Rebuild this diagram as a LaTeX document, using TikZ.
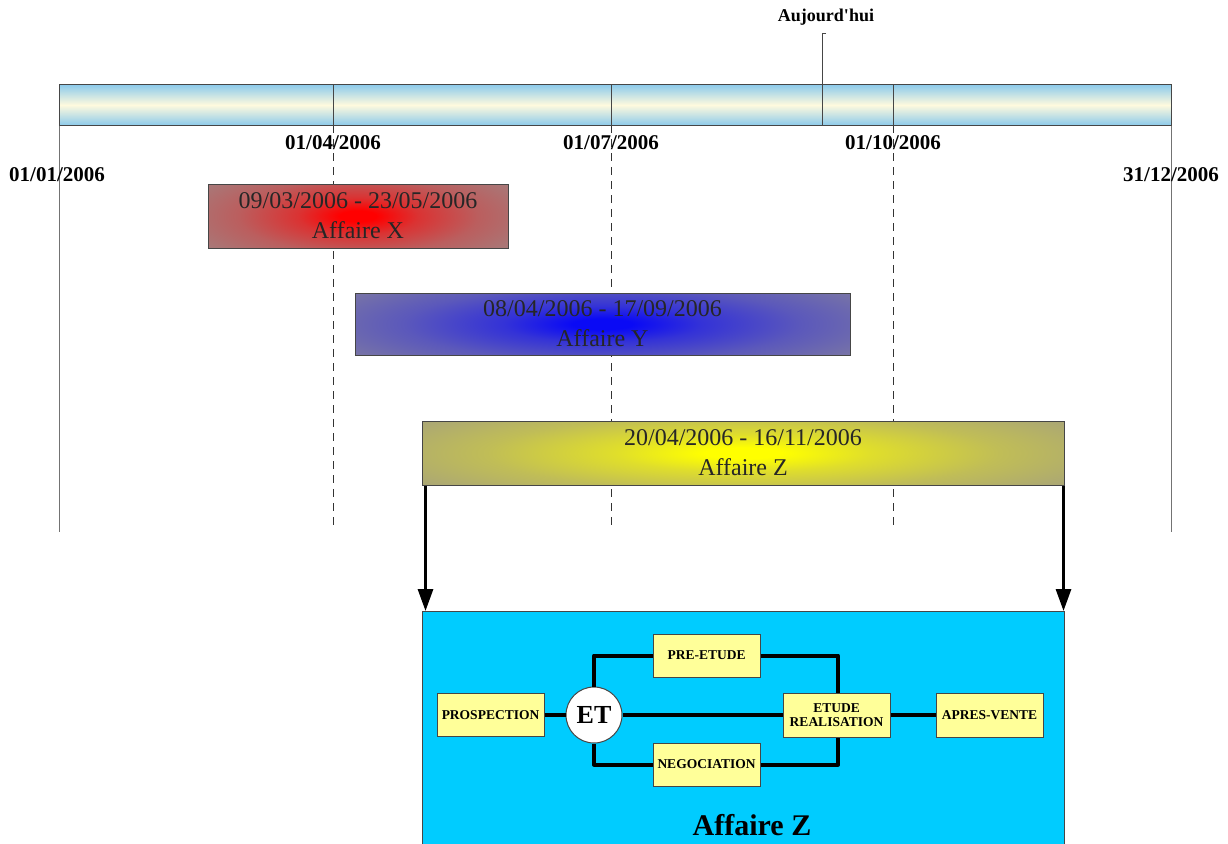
\documentclass[tikz,border=0pt]{standalone}
\usepackage{fontspec}
\setmainfont{Liberation Serif}
\usetikzlibrary{arrows.meta}
\definecolor{bargray}{RGB}{150,145,145}
\definecolor{tlblue}{RGB}{140,202,235}
\definecolor{tlcream}{RGB}{255,250,222}
\definecolor{edgegray}{RGB}{70,70,70}
\definecolor{zcyan}{RGB}{0,204,255}
\definecolor{boxyellow}{RGB}{255,255,153}
\definecolor{gred}{RGB}{255,0,0}
\definecolor{gblue}{RGB}{10,10,245}
\definecolor{gyellow}{RGB}{255,255,0}
\colorlet{gredA}{gred!65!bargray}
\colorlet{gredB}{gred!35!bargray}
\colorlet{gredC}{gred!14!bargray}
\colorlet{gblueA}{gblue!70!bargray}
\colorlet{gblueB}{gblue!42!bargray}
\colorlet{gblueC}{gblue!18!bargray}
\colorlet{gyellowA}{gyellow!70!bargray}
\colorlet{gyellowB}{gyellow!40!bargray}
\colorlet{gyellowC}{gyellow!16!bargray}
\pgfdeclareradialshading{glowred}{\pgfpoint{0bp}{0bp}}{color(0bp)=(gred); color(3bp)=(gred); color(10bp)=(gredA); color(20bp)=(gredB); color(32bp)=(gredC); color(44bp)=(bargray); color(100bp)=(bargray)}
\pgfdeclareradialshading{glowblue}{\pgfpoint{0bp}{0bp}}{color(0bp)=(gblue); color(3bp)=(gblue); color(10bp)=(gblueA); color(20bp)=(gblueB); color(32bp)=(gblueC); color(44bp)=(bargray); color(100bp)=(bargray)}
\pgfdeclareradialshading{glowyellow}{\pgfpoint{0bp}{0bp}}{color(0bp)=(gyellow); color(3bp)=(gyellow); color(10bp)=(gyellowA); color(20bp)=(gyellowB); color(32bp)=(gyellowC); color(44bp)=(bargray); color(100bp)=(bargray)}
\tikzset{
  datelbl/.style={font=\fontsize{21}{24}\selectfont\bfseries, inner sep=0pt},
  ganttbar/.style={draw=edgegray, line width=1pt, align=center, inner sep=0pt,
    font=\fontsize{24}{30}\selectfont, text=black!85},
  glow/.style={path picture={\shade[shading=#1]
    ([yshift=-14pt]path picture bounding box.south west) rectangle
    ([yshift=14pt]path picture bounding box.north east);}},
  tick/.style={draw=edgegray, line width=1pt},
  guide/.style={draw=black!80, line width=0.9pt, dash pattern=on 8pt off 6pt},
  border/.style={draw=black!55, line width=1pt},
  bigarrow/.style={line width=3pt, -{Triangle[length=22pt,width=15pt]}},
  stepbox/.style={draw=edgegray, line width=1pt, fill=boxyellow, minimum width=107pt,
    minimum height=43pt, inner sep=1pt, align=center,
    font=\fontsize{13.5}{15.5}\selectfont\bfseries},
  link/.style={line width=4pt, line join=round},
}
\begin{document}
\begin{tikzpicture}[x=1pt,y=-1pt]
\useasboundingbox (0,0) rectangle (1228,843);
\clip (0,0) rectangle (1228,843);

% guide lines
\draw[border] (59,125) -- (59,532);
\draw[border] (1171,125) -- (1171,532);
\draw[guide] (333,125) -- (333,528);
\draw[guide] (611,125) -- (611,528);
\draw[guide] (893,125) -- (893,528);

% timeline bar
\node[draw=edgegray, line width=1pt, top color=tlblue, bottom color=tlblue, middle color=tlcream,
  minimum width=1112pt, minimum height=41pt, anchor=north west, inner sep=0pt] (tl) at (59,84) {};
\draw[tick] (333,84) -- (333,125);
\draw[tick] (611,84) -- (611,125);
\draw[tick] (893,84) -- (893,125);
\draw[tick] (826,34) -- (822,34) -- (822,125);

\node[font=\fontsize{18}{20}\selectfont\bfseries, inner sep=0pt] (today) at (826,17) {Aujourd\textquotesingle hui};

% date labels
\node[datelbl] (d1) at (57,175) {01/01/2006};
\node[datelbl] (d2) at (333,143) {01/04/2006};
\node[datelbl] (d3) at (611,143) {01/07/2006};
\node[datelbl] (d4) at (893,143) {01/10/2006};
\node[datelbl] (d5) at (1171,175) {31/12/2006};

% gantt bars
\node[ganttbar, glow=glowred, minimum width=300pt, minimum height=64pt] (bx) at (358,216)
  {09/03/2006 - 23/05/2006\\Affaire X};
\node[ganttbar, glow=glowblue, minimum width=495pt, minimum height=62pt] (by) at (602.5,324)
  {08/04/2006 - 17/09/2006\\Affaire Y};
\node[ganttbar, glow=glowyellow, minimum width=642pt, minimum height=64pt] (bz) at (743,453)
  {20/04/2006 - 16/11/2006\\Affaire Z};

% detail box
\node[draw=edgegray, line width=1pt, fill=zcyan, minimum width=642pt, minimum height=260pt,
  anchor=north, inner sep=0pt] (zbox) at (743,611) {};
\node[font=\fontsize{30}{34}\selectfont\bfseries, inner sep=0pt] (ztitle) at (752,825) {Affaire Z};

\draw[bigarrow] ([xshift=4pt]bz.south west) -- ([xshift=4pt]zbox.north west);
\draw[bigarrow] ([xshift=-1pt]bz.south east) -- ([xshift=-1pt]zbox.north east);

% process
\node[stepbox] (pros) at (490.5,715) {PROSPECTION};
\node[stepbox] (pre) at (706.5,655.5) {PRE-ETUDE};
\node[stepbox] (neg) at (706.5,764.5) {NEGOCIATION};
\node[stepbox, minimum height=44pt] (etu) at (836.5,715) {ETUDE\\[-1pt]REALISATION};
\node[stepbox, minimum height=44pt] (apv) at (989.5,715) {APRES-VENTE};
\node[circle, draw=edgegray, line width=1pt, fill=white, minimum size=56pt, inner sep=0pt,
  font=\fontsize{26}{28}\selectfont\bfseries] (et) at (594,715) {ET};

\draw[link] (pros.east) -- (et.west);
\draw[link] (et.east) -- (etu.west);
\draw[link] (et.north) |- (pre.west);
\draw[link] (pre.east) -| ([xshift=1.5pt]etu.north);
\draw[link] (et.south) |- (neg.west);
\draw[link] (neg.east) -| ([xshift=1.5pt]etu.south);
\draw[link] (etu.east) -- (apv.west);
\end{tikzpicture}
\end{document}
